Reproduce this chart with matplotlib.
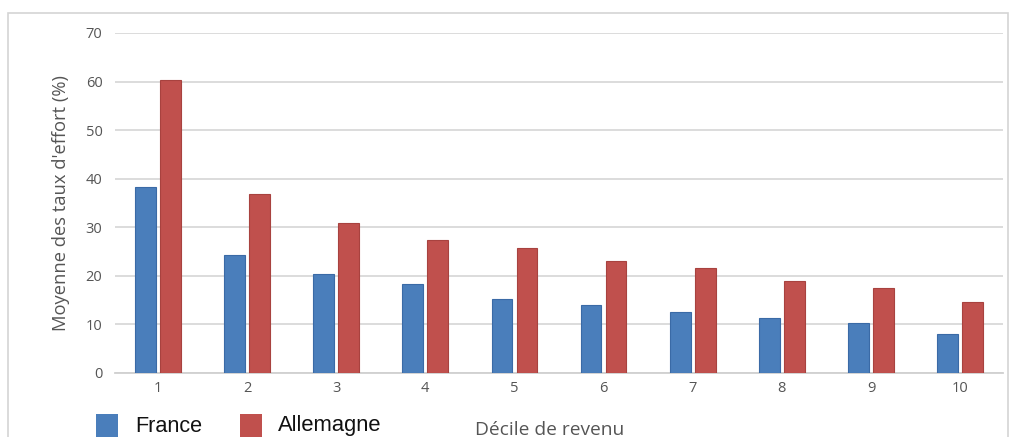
import matplotlib
matplotlib.use("Agg")
import matplotlib.pyplot as plt
from matplotlib.patches import Rectangle
import numpy as np

# Income deciles and average housing cost burden (%)
deciles = ["1", "2", "3", "4", "5", "6", "7", "8", "9", "10"]
france = [38.3, 24.3, 20.4, 18.3, 15.2, 14.0, 12.6, 11.4, 10.2, 8.0]
allemagne = [60.3, 36.9, 30.9, 27.4, 25.7, 23.1, 21.7, 18.9, 17.4, 14.6]
yticks = [0, 10, 20, 30, 40, 50, 60, 70]

blue = "#4A7EBB"
blue_edge = "#3A6AA6"
red = "#C0504D"
red_edge = "#A8423F"
text_grey = "#555555"

fig = plt.figure(figsize=(10.10, 4.37), dpi=100)
fig.patch.set_facecolor("white")

# Outer chart frame
fig.add_artist(Rectangle((8 / 1010, -0.05), 1000 / 1010, 1 - 13 / 437 + 0.05,
                         transform=fig.transFigure, fill=False,
                         edgecolor="#D4D4D4", linewidth=1.2))

ax = fig.add_axes([115 / 1010, 1 - 373 / 437, (1003 - 115) / 1010, (373 - 33) / 437])
x = np.arange(1, len(deciles) + 1)
w = 0.232
off = 0.141
ax.bar(x - off, france, width=w, color=blue, edgecolor=blue_edge, linewidth=0.8, zorder=3)
ax.bar(x + off, allemagne, width=w, color=red, edgecolor=red_edge, linewidth=0.8, zorder=3)

ax.set_xlim(0.52, 10.48)
ax.set_ylim(0, 70)
ax.set_yticks(yticks)
ax.set_yticklabels([str(v) for v in yticks])
ax.set_xticks(x)
ax.set_xticklabels(deciles)
ax.grid(axis="y", color="#D9D9D9", linewidth=1.3, zorder=0)
for s in ["top", "right", "left"]:
    ax.spines[s].set_visible(False)
ax.spines["bottom"].set_color("#D0D0D0")
ax.spines["bottom"].set_linewidth(1.3)
ax.tick_params(axis="both", length=0, labelsize=10.5, labelcolor=text_grey,
               labelfontfamily="Open Sans")
ax.tick_params(axis="y", pad=9)
ax.tick_params(axis="x", pad=6)

ax.set_ylabel("Moyenne des taux d'effort (%)", fontsize=13.2, color=text_grey,
              family="Open Sans", labelpad=11)

# Legend and axis title along the bottom edge
fig.add_artist(Rectangle((96 / 1010, 0), 22 / 1010, 23 / 437,
                         transform=fig.transFigure, facecolor=blue, edgecolor="none"))
fig.text(135 / 1010, 1 - 426 / 437, "France", fontsize=15.6, family="Liberation Sans",
         color="#111111", va="center", ha="left")
fig.add_artist(Rectangle((240 / 1010, 0), 22 / 1010, 23 / 437,
                         transform=fig.transFigure, facecolor=red, edgecolor="none"))
fig.text(278 / 1010, 1 - 426 / 437, "Allemagne", fontsize=15.8, family="Liberation Sans",
         color="#111111", va="center", ha="left")
fig.text(475 / 1010, 1 - 430 / 437, "Décile de revenu", fontsize=13.8, family="Open Sans",
         color=text_grey, va="center", ha="left")

fig.savefig("out.png", dpi=100, facecolor="white")
